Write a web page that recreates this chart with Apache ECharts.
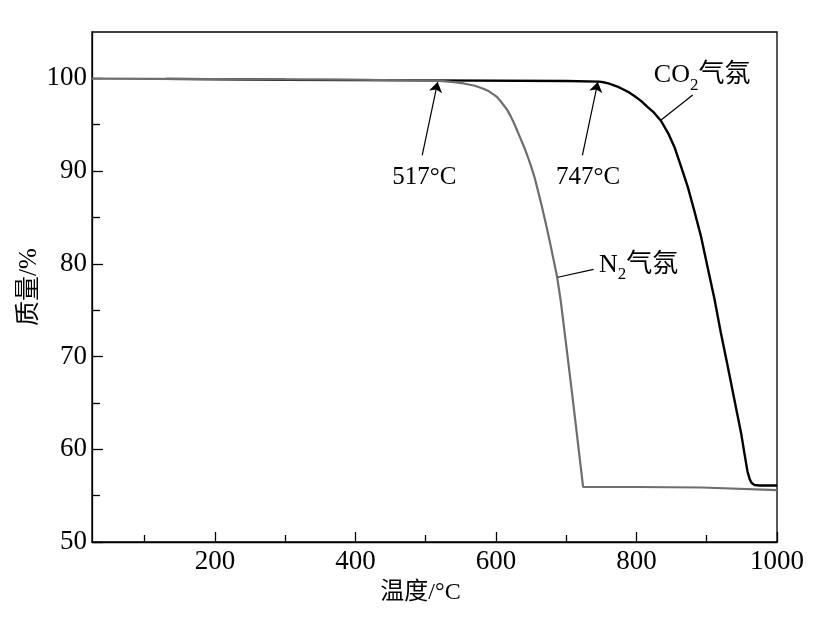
<!DOCTYPE html>
<html>
<head>
<meta charset="utf-8">
<script src="https://cdn.jsdelivr.net/npm/echarts@6/dist/echarts.min.js"></script>
<style>html,body{margin:0;padding:0;background:#fff}#c{width:825px;height:620px}</style>
</head>
<body>
<div id="c"></div>
<script>
// ---- data ----
const n2Temp = [25, 200, 400, 517, 540, 554, 570, 583, 590, 598, 602, 607, 611, 616, 621, 626, 630, 635, 640, 645, 650, 655, 664, 672, 678, 687, 692, 700, 709, 724, 800, 893, 1000];
const n2Mass = [99.97, 99.92, 99.85, 99.75, 99.6, 99.45, 99.2, 98.85, 98.6, 98.2, 97.95, 97.5, 97.1, 96.6, 95.9, 95.1, 94.4, 93.5, 92.6, 91.6, 90.5, 89.3, 86.6, 84.0, 81.9, 78.6, 76.1, 71.2, 65.6, 55.95, 55.93, 55.88, 55.6];
const co2Temp = [130, 300, 500, 700, 747, 755, 760, 766, 773, 780, 788, 797, 806, 816, 825, 835, 845, 854, 863, 873, 882, 892, 901, 911, 920, 930, 940, 949, 954, 958, 961, 964, 968, 975, 1000];
const co2Mass = [99.95, 99.85, 99.78, 99.72, 99.65, 99.55, 99.45, 99.3, 99.1, 98.85, 98.55, 98.1, 97.6, 96.9, 96.3, 95.4, 94.1, 92.6, 90.6, 88.3, 85.8, 82.9, 79.7, 76.2, 72.6, 68.9, 65.1, 61.7, 59.4, 57.6, 56.8, 56.35, 56.15, 56.1, 56.1];
const xMajorTicks = [200, 400, 600, 800, 1000];
const xMinorTicks = [100, 300, 500, 700, 900];
const yMajorTicks = [50, 60, 70, 80, 90, 100];
const yMinorTicks = [55, 65, 75, 85, 95];
// annotations (data coords)
const onsetLabels = ['517°C', '747°C'];
const onsetArrowFrom = [[495, 91.7], [723, 91.7]];
const onsetArrowTo = [[517, 99.6], [745, 99.6]];
const onsetLabelPos = [[498, 89.3], [731, 89.3]];
const seriesNames = ['N2气氛', 'CO2气氛'];
const leaderFrom = [[688, 78.55], [835, 95.5]];
const leaderTo = [[739, 79.4], [880, 98.2]];
const seriesLabelPos = [[746, 79.85], [824, 100.3]];

const FONT = "'Liberation Serif', 'Times New Roman', 'Noto Sans CJK SC', serif";
const zip = (a, b) => a.map((v, i) => [v, b[i]]);

const chart = echarts.init(document.getElementById('c'), null, {renderer: 'canvas'});

const richStyle = {
  a: {fontSize: 26, fontFamily: FONT, color: '#000', lineHeight: 30},
  s: {fontSize: 17, fontFamily: FONT, color: '#000', lineHeight: 36, verticalAlign: 'bottom'}
};
function subFmt(name) {
  const m = name.match(/^([A-Z]+)(\d)(.*)$/);
  return '{a|' + m[1] + '}{s|' + m[2] + '}{a|' + m[3] + '}';
}
const plain = v => String(v);

const option = {
  animation: false,
  backgroundColor: '#fff',
  grid: {left: 92, right: 48, top: 32, bottom: 78, show: true, borderColor: '#000', borderWidth: 1.3, containLabel: false},
  xAxis: [{
    type: 'value', min: 25, max: 1000, position: 'bottom',
    name: '温度/°C', nameLocation: 'middle', nameGap: 39,
    nameTextStyle: {fontFamily: FONT, fontSize: 24, color: '#000', padding: [0, 28, 0, 0]},
    axisLine: {show: true, onZero: false, lineStyle: {color: '#000', width: 1.3}},
    axisTick: {show: true, inside: true, length: 10, customValues: xMajorTicks, lineStyle: {color: '#000', width: 1.3}},
    axisLabel: {show: true, customValues: xMajorTicks, formatter: plain, margin: 6, fontFamily: FONT, fontSize: 27, color: '#000'},
    splitLine: {show: false}
  }, {
    type: 'value', min: 25, max: 1000, position: 'bottom', offset: 0,
    axisLine: {show: false},
    axisTick: {show: true, inside: true, length: 7, customValues: xMinorTicks, lineStyle: {color: '#000', width: 1.3}},
    axisLabel: {show: false},
    splitLine: {show: false}
  }],
  yAxis: [{
    type: 'value', min: 50, max: 105, position: 'left',
    name: '质量/%', nameLocation: 'middle', nameGap: 50, nameRotate: 90, nameMoveOverlap: false,
    nameTextStyle: {fontFamily: FONT, fontSize: 25, color: '#000'},
    axisLine: {show: true, onZero: false, lineStyle: {color: '#000', width: 1.3}},
    axisTick: {show: true, inside: true, length: 11, customValues: yMajorTicks, lineStyle: {color: '#000', width: 1.3}},
    axisLabel: {show: true, customValues: yMajorTicks, formatter: plain, margin: 5, fontFamily: FONT, fontSize: 27, color: '#000'},
    splitLine: {show: false}
  }, {
    type: 'value', min: 50, max: 105, position: 'left', offset: 0,
    axisLine: {show: false},
    axisTick: {show: true, inside: true, length: 8, customValues: yMinorTicks, lineStyle: {color: '#000', width: 1.3}},
    axisLabel: {show: false},
    splitLine: {show: false}
  }],
  series: [{
    name: seriesNames[0], type: 'line', xAxisIndex: 0, yAxisIndex: 0,
    data: zip(n2Temp, n2Mass), showSymbol: false, symbol: 'none',
    lineStyle: {color: '#6e6e6e', width: 2.2}, z: 3,
    markLine: {
      silent: true, animation: false, symbol: ['none', 'none'],
      lineStyle: {color: '#000', width: 1.2, type: 'solid'}, label: {show: false},
      data: leaderFrom.map((f, i) => [{coord: f}, {coord: leaderTo[i]}])
    },
    markPoint: {
      silent: true, animation: false, symbol: 'circle', symbolSize: 1,
      itemStyle: {color: 'rgba(0,0,0,0)'},
      data: seriesLabelPos.map((p, i) => ({
        coord: p,
        label: {show: true, position: 'right', distance: 0, formatter: subFmt(seriesNames[i]), rich: richStyle}
      }))
    }
  }, {
    name: seriesNames[1], type: 'line', xAxisIndex: 0, yAxisIndex: 0,
    data: zip(co2Temp, co2Mass), showSymbol: false, symbol: 'none',
    lineStyle: {color: '#000', width: 2.4}, z: 2,
    markLine: {
      silent: true, animation: false, symbol: ['none', 'arrow'], symbolSize: 10,
      lineStyle: {color: '#000', width: 1.2, type: 'solid'}, label: {show: false},
      data: onsetArrowFrom.map((f, i) => [{coord: f}, {coord: onsetArrowTo[i]}])
    },
    markPoint: {
      silent: true, animation: false, symbol: 'circle', symbolSize: 1,
      itemStyle: {color: 'rgba(0,0,0,0)'},
      data: onsetLabelPos.map((p, i) => ({
        coord: p,
        label: {show: true, position: 'inside', formatter: onsetLabels[i], fontFamily: FONT, fontSize: 25, color: '#000'}
      }))
    }
  }]
};
chart.setOption(option);
</script>
</body>
</html>
